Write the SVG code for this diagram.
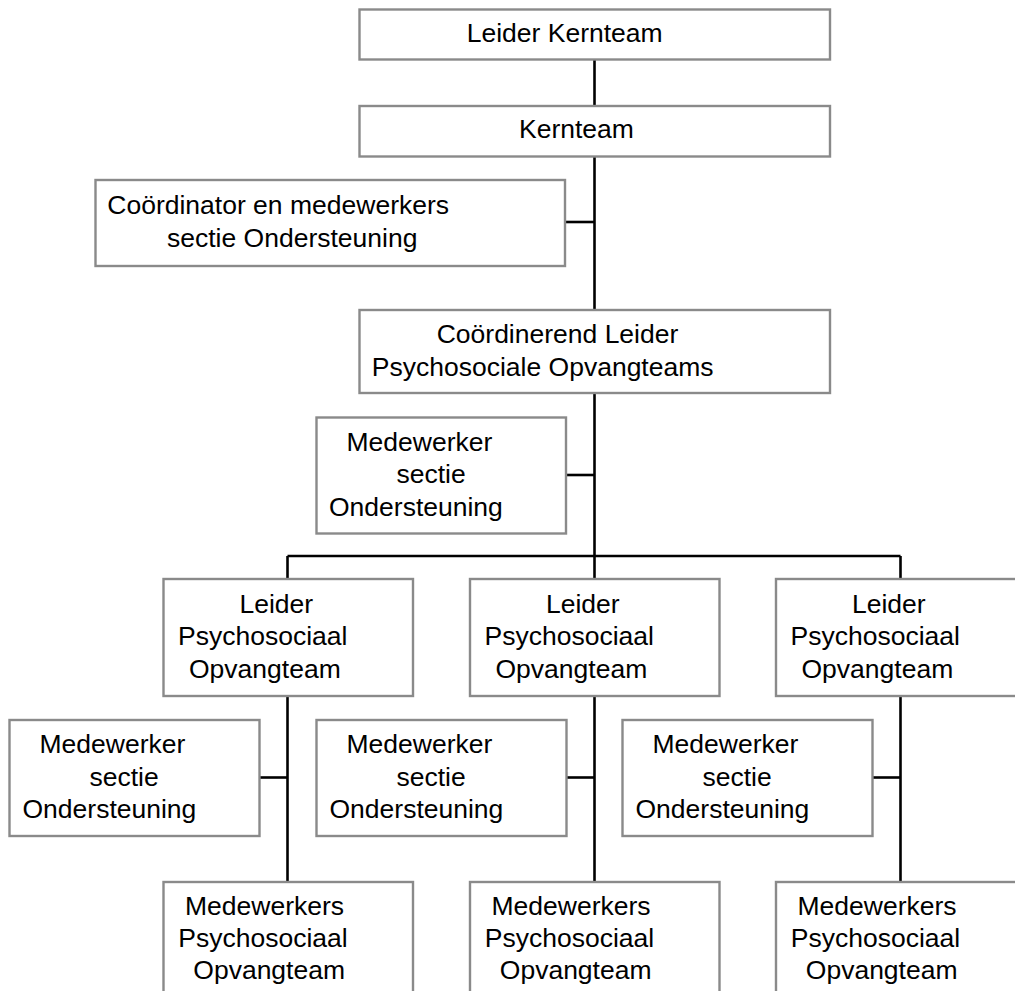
<svg xmlns="http://www.w3.org/2000/svg" width="1015" height="991" viewBox="0 0 1015 991">
<style>
.box{fill:#ffffff;stroke:#8a8a8a;stroke-width:2.4}
.t{font-family:"Liberation Sans",Arial,sans-serif;font-size:26.5px;fill:#000000}
.c{stroke:#000000;stroke-width:2.6;fill:none}
</style>
<rect width="1015" height="991" fill="#ffffff"/>
<g id="connectors">
<line class="c" x1="594.5" y1="59.5" x2="594.5" y2="106"/>
<line class="c" x1="594.5" y1="156.5" x2="594.5" y2="310"/>
<line class="c" x1="565" y1="222" x2="594.5" y2="222"/>
<line class="c" x1="594.5" y1="393" x2="594.5" y2="579"/>
<line class="c" x1="566" y1="475" x2="594.5" y2="475"/>
<line class="c" x1="287.5" y1="556" x2="900.5" y2="556"/>
<line class="c" x1="287.5" y1="556" x2="287.5" y2="579"/>
<line class="c" x1="900.5" y1="556" x2="900.5" y2="579"/>
<line class="c" x1="287.5" y1="696" x2="287.5" y2="882"/>
<line class="c" x1="594.5" y1="696" x2="594.5" y2="882"/>
<line class="c" x1="900.5" y1="696" x2="900.5" y2="882"/>
<line class="c" x1="259.5" y1="777.5" x2="287.5" y2="777.5"/>
<line class="c" x1="566" y1="777.5" x2="594.5" y2="777.5"/>
<line class="c" x1="872.5" y1="777.5" x2="900.5" y2="777.5"/>
</g>
<g id="leider-kernteam">
<rect class="box" x="359.5" y="9.5" width="470.5" height="50"/>
<text class="t" x="466.7" y="42.3">Leider Kernteam</text>
</g>
<g id="kernteam">
<rect class="box" x="359.5" y="106" width="470.5" height="50.5"/>
<text class="t" x="519" y="138.3">Kernteam</text>
</g>
<g id="coordinator">
<rect class="box" x="95.5" y="180" width="469.5" height="86"/>
<text class="t" x="107.3" y="214">Coördinator en medewerkers</text>
<text class="t" x="167" y="246.7">sectie Ondersteuning</text>
</g>
<g id="coordinerend-leider">
<rect class="box" x="359.5" y="310" width="470.5" height="83"/>
<text class="t" x="436.7" y="343">Coördinerend Leider</text>
<text class="t" x="371.8" y="375.5">Psychosociale Opvangteams</text>
</g>
<g id="medewerker-0">
<rect class="box" x="316.5" y="417.5" width="249.5" height="116"/>
<text class="t" x="346.5" y="450.7">Medewerker</text>
<text class="t" x="396.5" y="483.3">sectie</text>
<text class="t" x="329" y="516.2">Ondersteuning</text>
</g>
<g id="leider-1">
<rect class="box" x="163.5" y="579" width="249.5" height="117"/>
<text class="t" x="239.5" y="612.7">Leider</text>
<text class="t" x="178" y="645.2">Psychosociaal</text>
<text class="t" x="189" y="677.5">Opvangteam</text>
</g>
<g id="leider-2">
<rect class="box" x="470" y="579" width="249.5" height="117"/>
<text class="t" x="546" y="612.7">Leider</text>
<text class="t" x="484.5" y="645.2">Psychosociaal</text>
<text class="t" x="495.5" y="677.5">Opvangteam</text>
</g>
<g id="leider-3">
<rect class="box" x="776" y="579" width="249.5" height="117"/>
<text class="t" x="852" y="612.7">Leider</text>
<text class="t" x="790.5" y="645.2">Psychosociaal</text>
<text class="t" x="801.5" y="677.5">Opvangteam</text>
</g>
<g id="medewerker-1">
<rect class="box" x="9.5" y="720" width="250" height="116"/>
<text class="t" x="39.5" y="753.3">Medewerker</text>
<text class="t" x="89.5" y="785.8">sectie</text>
<text class="t" x="22.5" y="818.3">Ondersteuning</text>
</g>
<g id="medewerker-2">
<rect class="box" x="316.5" y="720" width="250" height="116"/>
<text class="t" x="346.5" y="753.3">Medewerker</text>
<text class="t" x="396.5" y="785.8">sectie</text>
<text class="t" x="329.5" y="818.3">Ondersteuning</text>
</g>
<g id="medewerker-3">
<rect class="box" x="622.5" y="720" width="250" height="116"/>
<text class="t" x="652.5" y="753.3">Medewerker</text>
<text class="t" x="702.5" y="785.8">sectie</text>
<text class="t" x="635.5" y="818.3">Ondersteuning</text>
</g>
<g id="medewerkers-1">
<rect class="box" x="163.5" y="882" width="249.5" height="130"/>
<text class="t" x="185" y="915">Medewerkers</text>
<text class="t" x="178.3" y="947">Psychosociaal</text>
<text class="t" x="193.3" y="979">Opvangteam</text>
</g>
<g id="medewerkers-2">
<rect class="box" x="470" y="882" width="249.5" height="130"/>
<text class="t" x="491.5" y="915">Medewerkers</text>
<text class="t" x="484.8" y="947">Psychosociaal</text>
<text class="t" x="499.8" y="979">Opvangteam</text>
</g>
<g id="medewerkers-3">
<rect class="box" x="776" y="882" width="249.5" height="130"/>
<text class="t" x="797.5" y="915">Medewerkers</text>
<text class="t" x="790.8" y="947">Psychosociaal</text>
<text class="t" x="805.8" y="979">Opvangteam</text>
</g>
</svg>
